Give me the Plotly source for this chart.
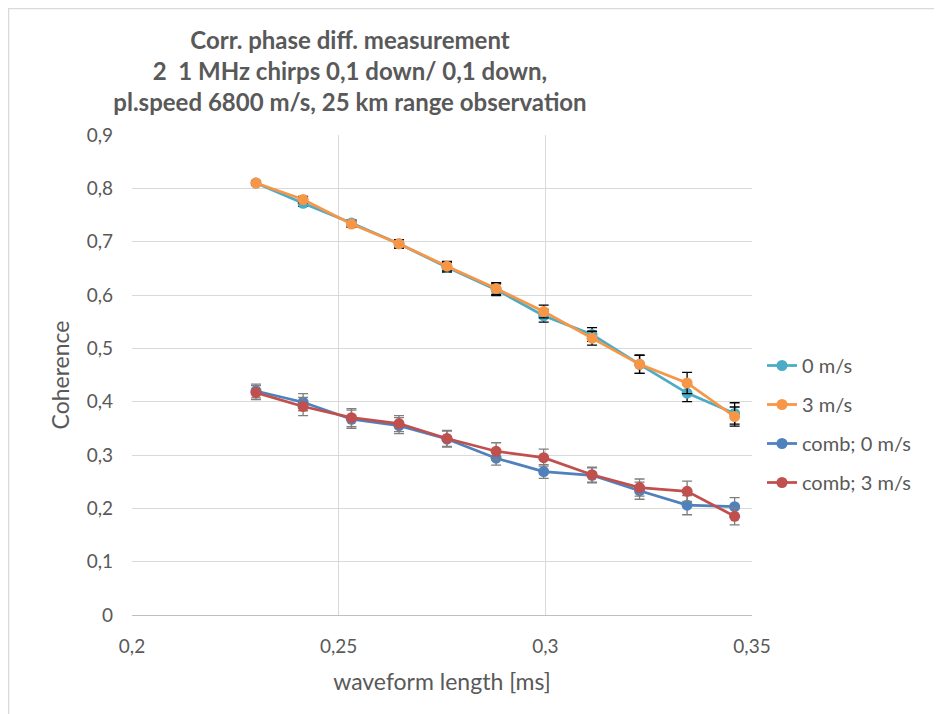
import plotly.graph_objects as go

x_ms = [0.2300, 0.2414, 0.2531, 0.2646, 0.2762, 0.2881, 0.2996, 0.3113, 0.3228, 0.3343, 0.3458]

coh_0 = [0.810, 0.772, 0.735, 0.696, 0.652, 0.610, 0.561, 0.526, 0.470, 0.416, 0.378]
err_0 = [0.004, 0.006, 0.006, 0.008, 0.009, 0.011, 0.012, 0.013, 0.017, 0.016, 0.020]

coh_3 = [0.810, 0.779, 0.733, 0.696, 0.654, 0.612, 0.569, 0.519, 0.470, 0.435, 0.372]
err_3 = [0.004, 0.006, 0.006, 0.008, 0.009, 0.011, 0.012, 0.013, 0.017, 0.020, 0.018]

comb_0 = [0.420, 0.399, 0.367, 0.355, 0.330, 0.294, 0.269, 0.262, 0.233, 0.206, 0.203]
comb_err_0 = [0.013, 0.016, 0.017, 0.015, 0.015, 0.013, 0.013, 0.014, 0.016, 0.018, 0.017]

comb_3 = [0.417, 0.391, 0.370, 0.359, 0.331, 0.307, 0.295, 0.263, 0.239, 0.232, 0.185]
comb_err_3 = [0.013, 0.017, 0.017, 0.015, 0.015, 0.016, 0.016, 0.014, 0.016, 0.019, 0.016]

series = [
    ("0 m/s", coh_0, err_0, "#4BACC6", "#000000"),
    ("3 m/s", coh_3, err_3, "#F79646", "#000000"),
    ("comb; 0 m/s", comb_0, comb_err_0, "#4F81BD", "#7F7F7F"),
    ("comb; 3 m/s", comb_3, comb_err_3, "#C0504D", "#7F7F7F"),
]

FONT = "Lato"
GREY = "#595959"

L, T, PW, PH = 124, 127, 620, 480
W, H = 942, 714
R = W - L - PW
B = H - T - PH

fig = go.Figure()
for i, (name, y, e, col, ecol) in enumerate(series):
    fig.add_trace(go.Scatter(
        x=x_ms, y=y, name=name, mode="lines+markers", legendgroup=f"g{i}",
        line=dict(color=col, width=2.75),
        marker=dict(color=col, size=11),
        error_y=dict(type="data", array=e, visible=True, color=ecol, thickness=1.3, width=5),
    ))

fig.update_layout(
    width=W, height=H,
    paper_bgcolor="white", plot_bgcolor="white",
    separators=", ",
    margin=dict(l=L, r=R, t=T, b=B),
    font=dict(family=FONT, color=GREY, size=19),
    title=dict(
        text="<b>Corr. phase diff. measurement<br>2  1 MHz chirps 0,1 down/ 0,1 down,<br>pl.speed 6800 m/s, 25 km range observation</b>",
        x=342 / W, xanchor="center", y=1 - 41 / H, yanchor="top",
        font=dict(family=FONT, size=24, color=GREY),
    ),
    legend=dict(
        x=(762 - 8 - L) / PW, y=1 - (346 - 8 - T) / PH, xanchor="left", yanchor="top",
        font=dict(size=20, color=GREY), itemwidth=30, tracegroupgap=10,
        bgcolor="rgba(0,0,0,0)",
    ),
    showlegend=True,
)

fig.update_xaxes(
    range=[0.2, 0.35], dtick=0.05, tick0=0.2,
    showgrid=True, gridcolor="#D9D9D9", gridwidth=1,
    showline=True, linecolor="#BFBFBF", linewidth=1,
    zeroline=False, ticks="", ticklabelstandoff=14,
    tickfont=dict(size=19, color=GREY),
    title=dict(text="waveform length [ms]", font=dict(size=23, color=GREY), standoff=18),
)
fig.update_yaxes(
    range=[0, 0.9], dtick=0.1, tick0=0,
    showgrid=True, gridcolor="#D9D9D9", gridwidth=1,
    zeroline=False, showline=False, ticks="", ticklabelstandoff=18,
    tickfont=dict(size=19, color=GREY),
    title=dict(text="Coherence", font=dict(size=23, color=GREY), standoff=10),
)

fig.add_shape(type="rect", xref="paper", yref="paper",
              x0=-(L - 0.5) / PW, x1=(W - L + 5) / PW, y0=-(B + 5) / PH, y1=1 + (T - 0.5) / PH,
              line=dict(color="#D9D9D9", width=1.5), fillcolor="rgba(0,0,0,0)", layer="below")

fig.write_html("out.html")
